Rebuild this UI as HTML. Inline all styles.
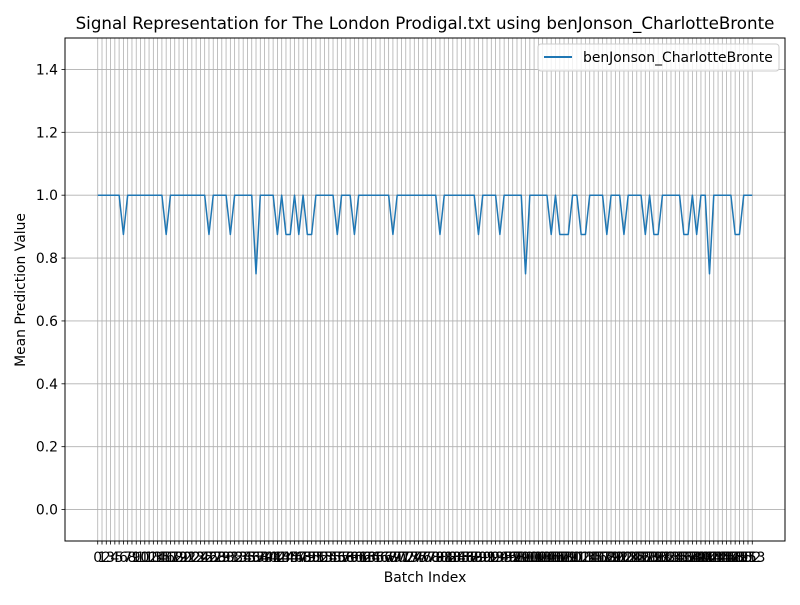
<!DOCTYPE html>
<html><head><meta charset="utf-8"><style>
body{margin:0;background:#fff}
svg text{font-family:"DejaVu Sans","Liberation Sans",sans-serif}
</style></head><body>
<svg id="chart" width="800" height="600" xmlns="http://www.w3.org/2000/svg">
<rect width="800" height="600" fill="#fff"/>
<text x="425" y="29" font-size="16.7" text-anchor="middle" fill="#000">Signal Representation for The London Prodigal.txt using benJonson_CharlotteBronte</text>
<g id="grid"></g>
<g id="series"></g>
<g id="axes"></g>
<text x="425" y="582" font-size="13.9" text-anchor="middle">Batch Index</text>
<text transform="translate(25,290) rotate(-90)" font-size="13.9" text-anchor="middle">Mean Prediction Value</text>
<g>
<rect x="538" y="44" width="241" height="27" rx="3" fill="#fff" fill-opacity="0.8" stroke="#ccc"/>
<line x1="544" y1="57" x2="572" y2="57" stroke="#1f77b4" stroke-width="2"/>
<text x="583" y="62" font-size="13.9">benJonson_CharlotteBronte</text>
</g>
</svg>
<script>
const n = 154;
const dips875 = [6,16,26,31,42,44,45,47,49,50,56,60,69,80,89,94,106,108,109,110,113,114,119,123,128,130,131,137,138,140,149,150];
const dips75 = [37,100,143];
const yTicks = [0.0,0.2,0.4,0.6,0.8,1.0,1.2,1.4];
const values = [];
for (let i = 0; i < n; i++) values.push(dips75.includes(i) ? 0.75 : dips875.includes(i) ? 0.875 : 1.0);

const L=65,R=785,T=38,B=541;
const xMin=-(n-1)*0.05, xMax=(n-1)*1.05;
const X=v=>L+(v-xMin)/(xMax-xMin)*(R-L);
const Y=v=>B-(v+0.1)/1.6*(B-T);
const NS="http://www.w3.org/2000/svg";
function mk(tag,attrs,parent){const e=document.createElementNS(NS,tag);for(const k in attrs)e.setAttribute(k,attrs[k]);parent.appendChild(e);return e;}
const grid=document.getElementById('grid'),axes=document.getElementById('axes'),series=document.getElementById('series');
for(let i=0;i<n;i++){
  const x=X(i);
  const g=mk('line',{x1:x,x2:x,y1:T,y2:B,stroke:'#b0b0b0','stroke-width':0.8},grid);
  
  
  mk('line',{x1:x,x2:x,y1:B,y2:B+3.5,stroke:'#000','stroke-width':0.8},axes);
  const t=mk('text',{x:x,y:B+21,'font-size':13.9,'text-anchor':'middle'},axes);
  
  
  t.textContent=String(i);
}
yTicks.forEach(v=>{
  const y=Y(v);
  const g=mk('line',{x1:L,x2:R,y1:y,y2:y,stroke:'#b0b0b0','stroke-width':0.8},grid);
  
  
  mk('line',{x1:L-3.5,x2:L,y1:y,y2:y,stroke:'#000','stroke-width':0.8},axes);
  const t=mk('text',{x:L-7,y:y+5,'font-size':13.9,'text-anchor':'end'},axes);
  
  
  t.textContent=v.toFixed(1);
});
const fr=mk('rect',{x:L,y:T,width:R-L,height:B-T,fill:'none',stroke:'#000','stroke-width':1},axes);


const pts=values.map((v,i)=>X(i).toFixed(2)+','+Y(v).toFixed(2)).join(' ');
const pl=mk('polyline',{points:pts,fill:'none',stroke:'#1f77b4','stroke-width':1.5,'stroke-linejoin':'round'},series);


</script>
</body></html>
